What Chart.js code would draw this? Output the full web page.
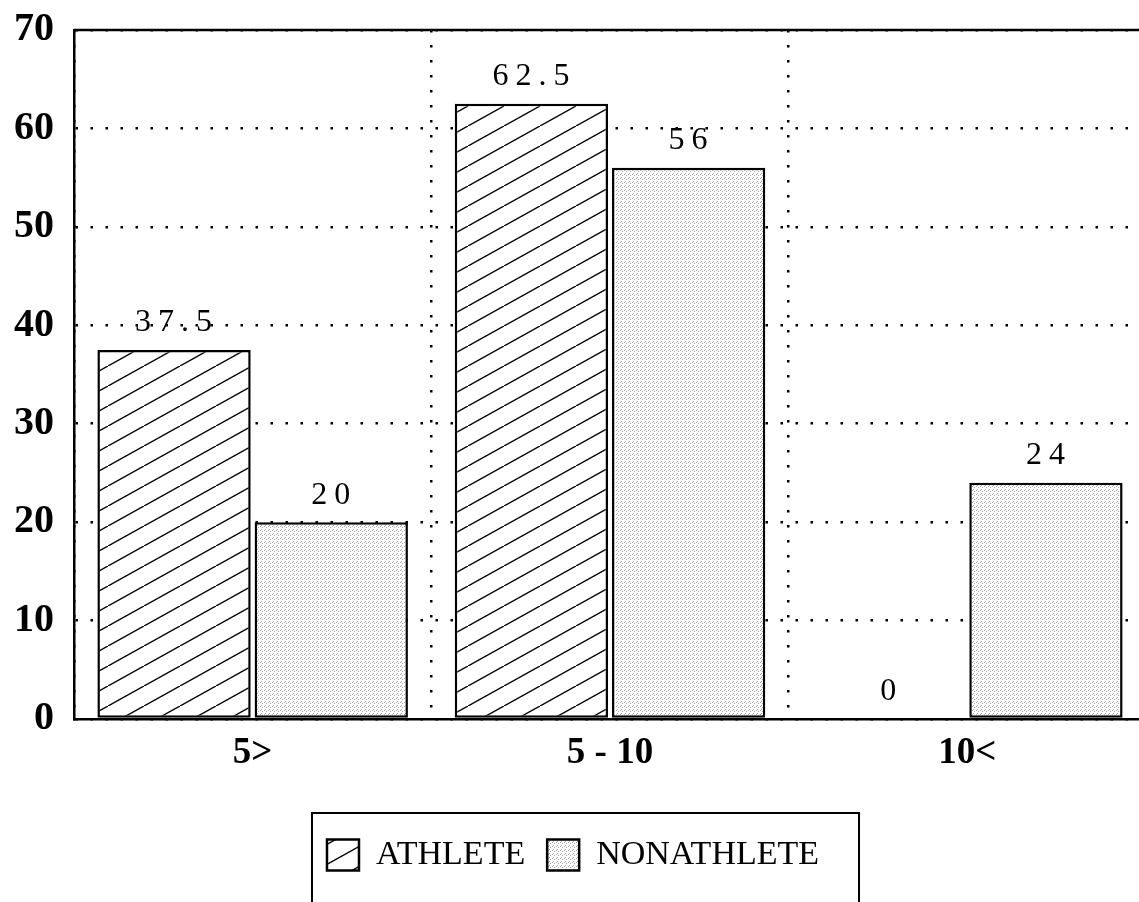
<!DOCTYPE html>
<html>
<head>
<meta charset="utf-8">
<script src="https://cdn.jsdelivr.net/npm/chart.js@4.4.1/dist/chart.umd.min.js"></script>
<style>
  html, body { margin: 0; padding: 0; background: #fff; overflow: hidden; }
  #wrap { width: 1146px; height: 916px; margin-top: -14px; }
</style>
</head>
<body>
<div id="wrap"><canvas id="chart"></canvas></div>
<script>
var categories = ['5>', '5 - 10', '10<'];
var athlete = [37.5, 62.5, 0];
var nonathlete = [20, 56, 24];
var yTicks = [0, 10, 20, 30, 40, 50, 60, 70];

// hatch pattern for the athlete bars
function hatch() {
  var w = 36, h = 20;
  var c = document.createElement('canvas');
  c.width = w; c.height = h;
  var g = c.getContext('2d');
  g.fillStyle = '#fff';
  g.fillRect(0, 0, w, h);
  g.strokeStyle = '#000';
  g.lineWidth = 1.4;
  [[-w, h], [0, 0], [w, -h]].forEach(function (o) {
    g.beginPath();
    g.moveTo(o[0], h + o[1]);
    g.lineTo(w + o[0], o[1]);
    g.stroke();
  });
  return g.createPattern(c, 'repeat');
}

// light stipple for the nonathlete bars
function stipple() {
  var c = document.createElement('canvas');
  c.width = 4; c.height = 4;
  var g = c.getContext('2d');
  g.fillStyle = '#fff';
  g.fillRect(0, 0, 4, 4);
  g.fillStyle = '#a8a8a8';
  g.fillRect(0, 0, 1, 1);
  g.fillRect(2, 1, 1, 1);
  g.fillRect(1, 3, 1, 1);
  return g.createPattern(c, 'repeat');
}

var valueLabels = {
  id: 'valueLabels',
  afterDatasetsDraw: function (chart) {
    var ctx = chart.ctx;
    ctx.save();
    ctx.font = '32px "Liberation Serif"';
    ctx.letterSpacing = '7px';
    ctx.fillStyle = '#000';
    ctx.textAlign = 'center';
    ctx.textBaseline = 'bottom';
    chart.data.datasets.forEach(function (ds, di) {
      chart.getDatasetMeta(di).data.forEach(function (bar, i) {
        ctx.fillText(String(ds.data[i]), bar.x + 3, bar.y - 11);
      });
    });
    ctx.restore();
  }
};

var frame = {
  id: 'frame',
  afterDraw: function (chart) {
    var ctx = chart.ctx, a = chart.chartArea;
    ctx.save();
    ctx.strokeStyle = '#000';
    ctx.lineWidth = 2.5;
    ctx.beginPath();
    ctx.moveTo(a.left, a.top);
    ctx.lineTo(a.right, a.top);
    ctx.stroke();
    // box round the legend
    var hb = chart.legend.legendHitBoxes;
    if (hb && hb.length) {
      var first = hb[0], last = hb[hb.length - 1];
      var mid = first.top + first.height / 2;
      var x0 = first.left - 15;
      ctx.lineWidth = 2;
      ctx.strokeRect(x0, mid - 42, last.left + last.width + 40 - x0, 200);
    }
    ctx.restore();
  }
};

var ctx = document.getElementById('chart').getContext('2d');
var chart = new Chart(ctx, {
  type: 'bar',
  data: {
    labels: categories,
    datasets: [
      {
        label: 'ATHLETE',
        data: athlete,
        backgroundColor: hatch(),
        borderColor: '#000',
        borderWidth: 2.5,
        borderSkipped: false
      },
      {
        label: 'NONATHLETE',
        data: nonathlete,
        backgroundColor: stipple(),
        borderColor: '#000',
        borderWidth: 2.5,
        borderSkipped: false
      }
    ]
  },
  options: {
    responsive: true,
    maintainAspectRatio: false,
    animation: false,
    categoryPercentage: 0.88,
    barPercentage: 0.975,
    layout: { padding: { top: 5, right: 0, bottom: 20, left: 0 } },
    plugins: {
      tooltip: { enabled: false },
      legend: {
        position: 'bottom',
        labels: {
          color: '#000',
          font: { family: '"Liberation Serif"', size: 34 },
          boxWidth: 32,
          boxHeight: 31,
          padding: 22
        }
      }
    },
    scales: {
      x: {
        afterFit: function (scale) { scale.height = 97; },
        grid: { color: '#000', lineWidth: 2.5, drawTicks: false },
        border: { color: '#000', width: 2.5, dash: [2.5, 12.5] },
        ticks: {
          color: '#000',
          padding: 12,
          font: { family: '"Liberation Serif"', size: 37, weight: 'bold' }
        }
      },
      y: {
        min: 0,
        max: 70,
        afterBuildTicks: function (scale) {
          scale.ticks = yTicks.map(function (v) { return { value: v }; });
        },
        afterFit: function (scale) { scale.width = 74; },
        grid: { color: '#000', lineWidth: 2.5, drawTicks: false },
        border: { color: '#000', width: 2.5, dash: [2.5, 12.5] },
        ticks: {
          color: '#000',
          padding: 20,
          font: { family: '"Liberation Serif"', size: 40, weight: 'bold' }
        }
      }
    }
  },
  plugins: [valueLabels, frame]
});
</script>
</body>
</html>
